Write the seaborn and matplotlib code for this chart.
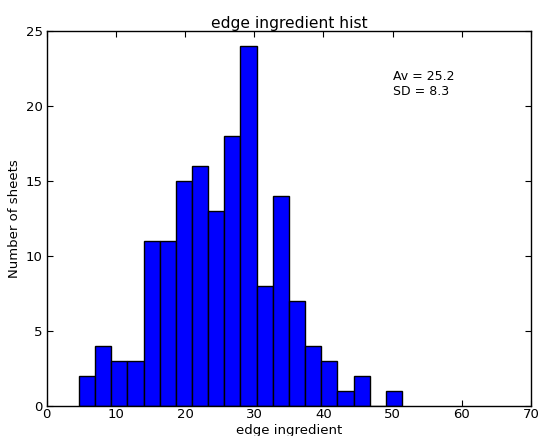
import numpy as np
import pandas as pd
import matplotlib
matplotlib.use("Agg")
import matplotlib.pyplot as plt
import seaborn as sns

bin_min = 4.67
bin_max = 51.35
conteos = [2, 4, 3, 3, 11, 11, 15, 16, 13, 18, 24, 8, 14, 7, 4, 3, 1, 2, 0, 1]
media = 25.2
desv = 8.3

bordes = np.linspace(bin_min, bin_max, len(conteos) + 1)
centros = (bordes[:-1] + bordes[1:]) / 2
datos = pd.DataFrame({"edge": centros, "n": conteos})

sns.set_theme(style="white", rc={
    "xtick.direction": "in", "ytick.direction": "in",
    "xtick.top": True, "ytick.right": True,
    "xtick.bottom": True, "ytick.left": True,
    "axes.edgecolor": "black", "axes.linewidth": 1.0,
    "xtick.major.size": 4, "ytick.major.size": 4,
    "xtick.color": "black", "ytick.color": "black",
    "text.color": "black", "axes.labelcolor": "black",
})
plt.rcParams["font.family"] = ["DejaVu Sans"]

fig = plt.figure(figsize=(5.38, 4.36), dpi=100)
ax = fig.add_axes([0.0868, 0.0688, 0.9002, 0.8602])

sns.histplot(data=datos, x="edge", weights="n", bins=list(bordes), color="blue",
             edgecolor="black", linewidth=1.0, alpha=1.0, ax=ax)

ax.set_xlim(0, 70)
ax.set_ylim(0, 25)
ax.set_xticks(range(0, 71, 10))
ax.set_yticks(range(0, 26, 5))
ax.tick_params(axis="x", labelsize=9.5, pad=1.5, length=4, width=0.8)
ax.tick_params(axis="y", labelsize=9.5, pad=3, length=4, width=0.8)
ax.set_title("edge ingredient hist", fontsize=11.2, pad=1.5)
ax.set_xlabel("edge ingredient", fontsize=9.5, labelpad=2)
ax.set_ylabel("Number of sheets", fontsize=9.5, labelpad=3)

# estadisticas en coordenadas de datos
ax.text(50, 21.73, f"Av = {media}", fontsize=9, va="baseline", ha="left")
ax.text(50, 20.73, f"SD = {desv}", fontsize=9, va="baseline", ha="left")

fig.savefig("out.png", dpi=100)
